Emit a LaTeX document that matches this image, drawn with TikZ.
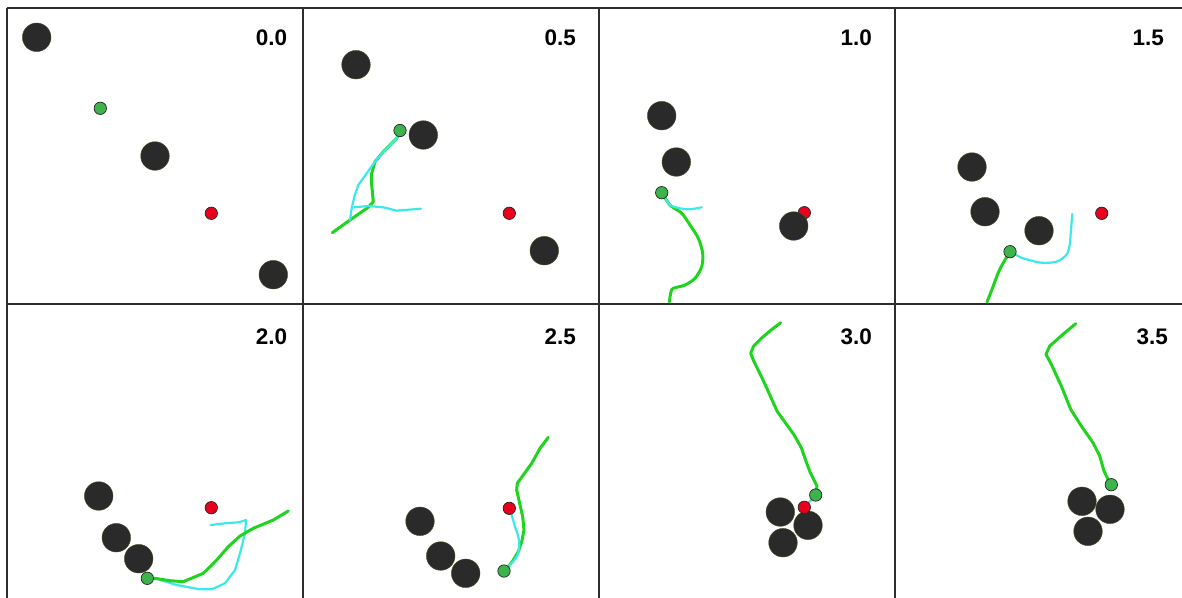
\documentclass[tikz,border=0pt]{standalone}
\usepackage{fontspec}
\setmainfont{Liberation Sans}
\usepackage{tikz}
\usetikzlibrary{backgrounds}

\definecolor{obstacleGray}{HTML}{2A2A2A}
\definecolor{agentGreen}{HTML}{3CB44B}
\definecolor{goalRed}{HTML}{E8001C}
\definecolor{trailGreen}{HTML}{1ED41E}
\definecolor{planCyan}{HTML}{3CE8E8}
\definecolor{frameGray}{HTML}{2E2E2E}

\begin{document}
\begin{tikzpicture}
  [x=1pt,y=-1pt,
   obstacle/.style={circle,fill=obstacleGray,draw=obstacleGray!85!yellow,line width=0.4pt,minimum size=28.6pt,inner sep=0pt},
   agent/.style={circle,fill=agentGreen,draw=black!85,line width=0.7pt,minimum size=12.4pt,inner sep=0pt},
   goal/.style={circle,fill=goalRed,draw=black!85,line width=0.7pt,minimum size=12.4pt,inner sep=0pt},
   timeLabel/.style={anchor=base east,inner sep=0pt,font=\fontsize{22.5}{26}\selectfont\bfseries},
   trail/.style={draw=trailGreen,line width=3pt,line join=round,line cap=round},
   plan/.style={draw=planCyan,line width=2.2pt,line join=round,line cap=round},
   frame/.style={draw=frameGray,line width=2pt}]
  \useasboundingbox (0,0) rectangle (1182,597);

  % panel frames
  \draw[frame] (7,8) -- (1186,8);
  \draw[frame] (7,304) -- (1186,304);
  \foreach \x in {7,303,599,895}
    \draw[frame] (\x,8) -- (\x,601);

  % time stamps
  \node[timeLabel] (t00) at (287.3,45) {0.0};
  \node[timeLabel] (t05) at (576,45) {0.5};
  \node[timeLabel] (t10) at (872,45) {1.0};
  \node[timeLabel] (t15) at (1164,45) {1.5};
  \node[timeLabel] (t20) at (287.3,344.3) {2.0};
  \node[timeLabel] (t25) at (576,344.3) {2.5};
  \node[timeLabel] (t30) at (872,344.3) {3.0};
  \node[timeLabel] (t35) at (1168,344.3) {3.5};

  % t = 0.0
  \node[obstacle] (p1o1) at (36.7,37.3) {};
  \node[obstacle] (p1o2) at (155,156) {};
  \node[obstacle] (p1o3) at (273.3,274.7) {};
  \node[goal] (p1goal) at (211.3,213.3) {};
  \node[agent] (p1agent) at (100.3,108.3) {};

  % t = 0.5
  \node[obstacle] (p2o1) at (356,64.7) {};
  \node[obstacle] (p2o2) at (423.3,135) {};
  \node[obstacle] (p2o3) at (544.3,250.7) {};
  \node[goal] (p2goal) at (509.3,213.3) {};
  \node[agent] (p2agent) at (400,130.5) {};

  % t = 1.0
  \node[obstacle] (p3o1) at (661.7,115.7) {};
  \node[obstacle] (p3o2) at (676.3,162) {};
  \node[goal] (p3goal) at (804.3,212.7) {};
  \node[obstacle] (p3o3) at (793.7,226) {};
  \node[agent] (p3agent) at (661.7,192.7) {};

  % t = 1.5
  \node[obstacle] (p4o1) at (972,167) {};
  \node[obstacle] (p4o2) at (985,211.7) {};
  \node[obstacle] (p4o3) at (1039,230.7) {};
  \node[goal] (p4goal) at (1101.7,213.3) {};
  \node[agent] (p4agent) at (1010,251.7) {};

  % t = 2.0
  \node[obstacle] (p5o1) at (98.7,496) {};
  \node[obstacle] (p5o2) at (116.3,537.7) {};
  \node[obstacle] (p5o3) at (138.7,558.7) {};
  \node[goal] (p5goal) at (211.3,507.7) {};
  \node[agent] (p5agent) at (147.3,578.3) {};

  % t = 2.5
  \node[obstacle] (p6o1) at (420,521.3) {};
  \node[obstacle] (p6o2) at (440.7,556) {};
  \node[obstacle] (p6o3) at (465.7,573.3) {};
  \node[goal] (p6goal) at (509.3,508.3) {};
  \node[agent] (p6agent) at (504,571) {};

  % t = 3.0
  \node[obstacle] (p7o1) at (780.3,512) {};
  \node[obstacle] (p7o2) at (808,525.3) {};
  \node[obstacle] (p7o3) at (783,542.7) {};
  \node[goal] (p7goal) at (804.3,507.3) {};
  \node[agent] (p7agent) at (815.7,495) {};

  % t = 3.5
  \node[obstacle] (p8o1) at (1082,501.3) {};
  \node[obstacle] (p8o2) at (1110,509.3) {};
  \node[obstacle] (p8o3) at (1088,531.3) {};
  \node[agent] (p8agent) at (1111.3,484.7) {};

  % trails (green) and plans (cyan) go under the dots
  \begin{scope}[on background layer]
    \draw[trail] (332.3,232.7) -- (350,220) -- (368.3,207.3) -- (373.3,201.7) -- (371.7,185) -- (371.7,173.3) -- (375,161.7) -- (383.3,151.7) -- (396.7,138.3) -- (p2agent.center);
    \draw[plan] (p2agent.center) -- (396.7,138.3) -- (383.3,151.7) -- (375,161.7) -- (366.7,173.3) -- (358.3,185) -- (354.3,196.7) -- (351.7,208.3) -- (350,220);
    \draw[plan] (354.3,207.3) -- (368.3,206) -- (383.3,207.3) -- (396.7,210.7) -- (405,210) -- (421,208.7);

    \draw[trail] plot[smooth,tension=0.5] coordinates {(p3agent.center) (670,205) (681.7,213.3) (690,225) (698.3,238.3) (702.7,253.3) (701.7,266.7) (695,278.3) (685,285) (673.3,288.3) (671,291.7) (669.3,302)};
    \draw[plan] plot[smooth,tension=0.5] coordinates {(p3agent.center) (665,198.3) (670,205) (680,208.3) (690,209.3) (701.7,207.3)};

    \draw[plan] plot[smooth,tension=0.5] coordinates {(p4agent.center) (1016.3,255) (1023,258.3) (1041.3,262.7) (1056.3,261.7) (1066.3,255) (1069.7,245) (1070.7,233.3) (1072.3,214)};
    \draw[trail] plot[smooth,tension=0.5] coordinates {(p4agent.center) (1003,263.3) (998,273.3) (993,286.7) (987,302)};

    \draw[plan] (p5agent.center) -- (155,578.3) -- (176.7,585) -- (200,589.3) -- (211.7,589.3) -- (225,583.3) -- (235,570) -- (240,553.3) -- (245,533.3) -- (246,520) -- (244,520.7) -- (238.3,522.3) -- (225,523.3) -- (210.7,525);
    \draw[trail] (p5agent.center) -- (155,578.3) -- (170,580.7) -- (183.3,581.7) -- (203.3,573.3) -- (216.7,560) -- (228.3,546.7) -- (240,536) -- (253.3,528.3) -- (273.3,520) -- (288.3,511);

    \draw[trail] (548.3,437.3) -- (540,448.3) -- (531.7,463.3) -- (523.3,475) -- (517.3,483.3) -- (516.7,490) -- (519.3,501.7) -- (522.7,516.7) -- (524,530) -- (521.7,541.7) -- (518.3,551.7) -- (513.3,560) -- (508.3,566.7) -- (p6agent.center);
    \draw[plan] plot[smooth,tension=0.5] coordinates {(p6goal.center) (511.7,515) (515,526.7) (518.3,536.7) (519.3,546.7) (516.7,556.7) (510,565) (p6agent.center)};

    \draw[trail] (780.7,322.7) -- (772,329.3) -- (762,337.7) -- (753.7,346) -- (750.7,353.3) -- (753.7,361) -- (762,377.7) -- (770.3,396) -- (777,411) -- (785.3,422.7) -- (793.7,434.3) -- (801.3,447.7) -- (805.3,459.3) -- (810.3,472.7) -- (817,486) -- (p7agent.center);
    \draw[plan] (p7goal.center) -- (p7agent.center);

    \draw[trail] (1075.7,323.7) -- (1063,334.3) -- (1049.7,346) -- (1046,354.3) -- (1051.3,364.3) -- (1061.3,386) -- (1070.7,409.3) -- (1081.3,426) -- (1093,442.7) -- (1099.7,456) -- (1104,471) -- (1108,479.3) -- (p8agent.center);
  \end{scope}
\end{tikzpicture}
\end{document}
